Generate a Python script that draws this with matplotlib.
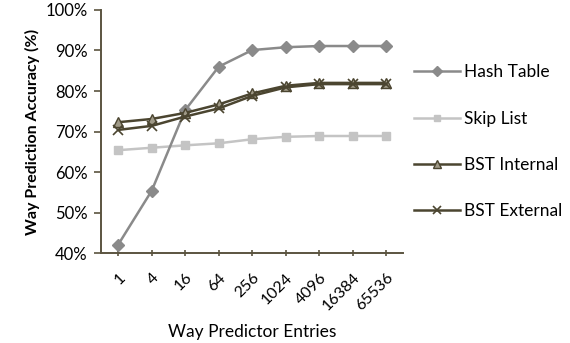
import matplotlib.pyplot as plt
from matplotlib.ticker import FuncFormatter

plt.rcParams['font.family'] = ['Lato', 'DejaVu Sans']

entradas = ['1', '4', '16', '64', '256', '1024', '4096', '16384', '65536']
hash_table = [42.1, 55.4, 75.3, 86.0, 90.1, 90.8, 91.1, 91.1, 91.1]
skip_list = [65.4, 66.0, 66.6, 67.1, 68.1, 68.7, 68.9, 68.9, 68.9]
bst_interno = [72.3, 73.1, 74.6, 76.7, 79.4, 81.3, 82.0, 82.0, 82.0]
bst_externo = [70.4, 71.4, 73.7, 75.7, 78.8, 80.9, 81.7, 81.7, 81.7]

cor_eixo = '#5b5440'
cor_bst = '#4b4530'

fig = plt.figure(figsize=(5.7, 3.43), dpi=100)
ax = fig.add_axes([0.178, 0.262, 0.529, 0.709])

x = range(len(entradas))
ax.plot(x, hash_table, color='#8a8a8a', lw=1.8, marker='D', ms=6,
        mfc='#8a8a8a', mec='#8a8a8a', label='Hash Table', zorder=3)
ax.plot(x, skip_list, color='#c4c4c4', lw=1.8, marker='s', ms=6,
        mfc='#c4c4c4', mec='#c4c4c4', label='Skip List', zorder=2)
ax.plot(x, bst_interno, color=cor_bst, lw=1.8, marker='^', ms=7,
        mfc='#a09a88', mec=cor_bst, mew=1.0, label='BST Internal', zorder=4)
ax.plot(x, bst_externo, color=cor_bst, lw=1.8, marker='x', ms=7,
        mec=cor_bst, mew=1.2, label='BST External', zorder=4)

ax.set_xlim(-0.5, 8.5)
ax.set_ylim(40, 100)
ax.set_yticks(range(40, 101, 10))
ax.yaxis.set_major_formatter(FuncFormatter(lambda v, p: f'{v:.0f}%'))
ax.set_xticks(list(x))
ax.set_xticklabels(entradas, rotation=45, ha='right', rotation_mode='anchor', fontsize=11.5)
ax.tick_params(axis='y', labelsize=12, color=cor_eixo, length=5, width=1.2, pad=5)
ax.tick_params(axis='x', color=cor_eixo, length=5, width=1.2, direction='inout', pad=10)

for lado in ['top', 'right']:
    ax.spines[lado].set_visible(False)
for lado in ['left', 'bottom']:
    ax.spines[lado].set_color(cor_eixo)
    ax.spines[lado].set_linewidth(1.4)

ax.set_ylabel('Way Prediction Accuracy (%)', fontsize=11.5, fontweight='bold', labelpad=4)
ax.set_xlabel('Way Predictor Entries', fontsize=12.5, labelpad=8)

leg = ax.legend(loc='upper left', bbox_to_anchor=(1.015, 0.805), frameon=False, fontsize=12.5,
                handlelength=2.6, handletextpad=0.25, labelspacing=1.75, borderaxespad=0,
                markerscale=0.8)

fig.savefig('out.png', dpi=100)
